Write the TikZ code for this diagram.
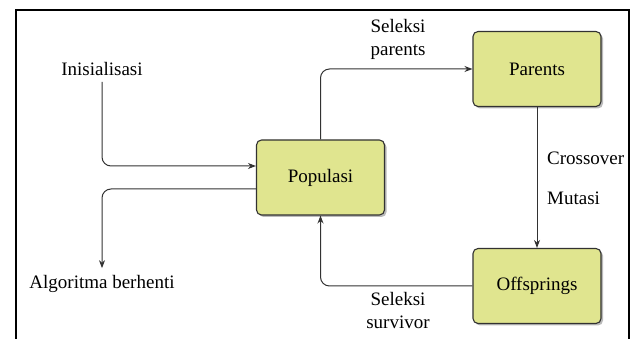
\documentclass[tikz,border=0pt]{standalone}
\usepackage{fontspec}
\setmainfont{Liberation Serif}
\usetikzlibrary{arrows.meta,shadows}
\definecolor{boxfill}{RGB}{224,229,143}
\definecolor{linec}{RGB}{50,50,50}
\begin{document}
\begin{tikzpicture}[x=1pt,y=-1pt,
 proc/.style={draw=linec, line width=1.1pt, fill=boxfill, rounded corners=5pt,
   minimum width=128pt, minimum height=75pt, font=\fontsize{19}{22}\selectfont,
   drop shadow={shadow xshift=2pt, shadow yshift=-2pt, fill=black!45, opacity=0.6}},
 lbl/.style={font=\fontsize{19}{23}\selectfont, align=center, inner sep=0pt},
 conn/.style={draw=linec, line width=1pt, rounded corners=9pt, -{Stealth[length=8pt,width=6pt]}}]
\useasboundingbox (0,0) rectangle (630,339);
\draw[line width=1.2pt] (16,339) -- (16,10) -- (629,10) -- (629,339);

\node[proc] (pop) at (320.5,177.5) {Populasi};
\node[proc] (par) at (537,69) {Parents};
\node[proc] (off) at (537,286) {Offsprings};

\node[lbl] (ini) at (102,69) {Inisialisasi};
\node[lbl] (alg) at (102,284) {Algoritma berhenti};
\node[lbl] (selp) at (398,39.5) {Seleksi\\parents};
\node[lbl] (sels) at (398,311) {Seleksi\\survivor};
\node[lbl, anchor=west] (cro) at (547,158) {Crossover};
\node[lbl, anchor=west] (mut) at (547,198) {Mutasi};

\draw[conn] ([yshift=-6pt]ini.south) |- ([yshift=11.5pt]pop.west);
\draw[conn] ([yshift=-11.5pt]pop.west) -| ([yshift=7pt]alg.north);
\draw[conn] (pop.north) |- (par.west);
\draw[conn] (par.south) -- (off.north);
\draw[conn] (off.west) -| (pop.south);
\end{tikzpicture}
\end{document}
